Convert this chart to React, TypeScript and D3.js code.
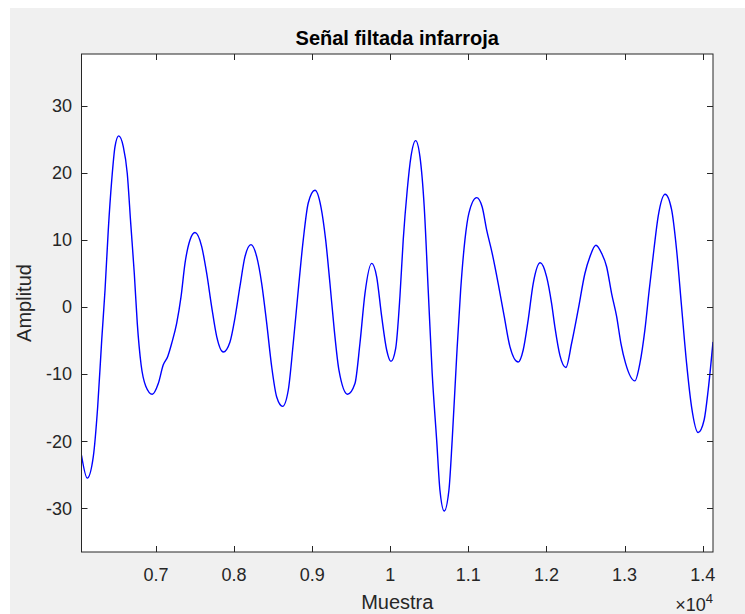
import * as d3 from "d3";
import React, { useEffect, useRef } from "react";

// sample index (x) and filtered IR amplitude (y)
const muestra = [
  6047, 6121, 6198, 6254, 6306, 6348, 6390, 6434, 6476, 6523, 6582, 6633, 6677, 6723, 6761, 6810,
  6870, 6953, 7030, 7094, 7150, 7202, 7266, 7321, 7372, 7436, 7500, 7586, 7650, 7714, 7778, 7862,
  7948, 8012, 8076, 8140, 8217, 8290, 8354, 8418, 8482, 8546, 8622, 8694, 8758, 8822, 8886, 8950,
  9036, 9113, 9173, 9228, 9283, 9343, 9454, 9548, 9612, 9676, 9762, 9826, 9890, 9954, 10009, 10069,
  10124, 10166, 10217, 10265, 10325, 10380, 10435, 10486, 10537, 10594, 10636, 10691, 10751, 10793,
  10850, 10901, 10956, 11007, 11106, 11177, 11234, 11305, 11382, 11459, 11532, 11638, 11702, 11766,
  11830, 11920, 12002, 12066, 12108, 12172, 12249, 12322, 12406, 12492, 12556, 12633, 12706, 12770,
  12834, 12898, 12953, 13013, 13132, 13196, 13260, 13315, 13375, 13430, 13520, 13602, 13666, 13730,
  13794, 13858, 13942, 14019, 14070, 14132,
];
const amplitud = [
  -22.1, -25.5, -22.3, -14.9, -4.9, 2.5, 11.5, 18.9, 23.9, 25.5, 23.9, 19.9, 12.5, 5.0, -2.4, -8.6,
  -11.8, -13.0, -11.4, -8.6, -7.4, -5.4, -2.4, 1.5, 6.5, 10.0, 11.1, 9.0, 5.0, 0.0, -4.4, -6.7,
  -5.2, -1.6, 3.1, 7.5, 9.3, 7.5, 3.5, -2.4, -8.9, -13.4, -14.8, -12.4, -5.4, 2.5, 10.0, 15.5,
  17.4, 14.9, 10.0, 3.5, -3.4, -9.4, -13.0, -11.4, -5.4, 2.0, 6.5, 4.5, -1.4, -6.4, -8.1, -6.2,
  1.6, 10.0, 17.4, 22.4, 24.8, 22.4, 14.9, 2.5, -9.9, -19.8, -27.3, -30.4, -27.3, -19.8,
  -7.4, 2.5, 10.0, 14.0, 16.3, 14.9, 11.5, 8.0, 3.5, -1.4, -5.9, -8.2, -6.4, -1.9,
  3.5, 6.6, 4.5, 0.5, -3.0, -7.2, -9.0, -5.4, -0.4, 5.0, 7.5, 9.2, 8.0, 6.0,
  2.0, -1.4, -5.4, -8.4, -11.0, -8.4, -3.4, 2.5, 8.5, 13.5, 16.8, 14.5, 8.5, 0.0,
  -8.4, -14.9, -18.7, -16.8, -12.4, -5.2,
];

const xTicks = [7000, 8000, 9000, 10000, 11000, 12000, 13000, 14000];
const xTickLabels = ["0.7", "0.8", "0.9", "1", "1.1", "1.2", "1.3", "1.4"];
const yTicks = [-30, -20, -10, 0, 10, 20, 30];

const W = 745;
const H = 614;
const box = { left: 81.5, right: 713, top: 54, bottom: 552 };
const ink = "#262626";
const font = "'Liberation Sans', Arial, Helvetica, sans-serif";

export default function App() {
  const svgRef = useRef<SVGSVGElement | null>(null);

  useEffect(() => {
    const svg = d3.select(svgRef.current);
    svg.selectAll("*").remove();

    const x = d3.scaleLinear().domain([6047, 14132]).range([box.left, box.right]);
    const y = d3.scaleLinear().domain([-36.5, 37.7]).range([box.bottom, box.top]);
    const tick = 6;

    // figure background
    svg.append("rect").attr("width", W).attr("height", H).attr("fill", "#ffffff");
    svg.append("rect").attr("x", 10).attr("y", 8).attr("width", W - 10).attr("height", H - 8)
      .attr("fill", "#f0f0f0");

    svg.append("rect")
      .attr("x", box.left).attr("y", box.top)
      .attr("width", box.right - box.left).attr("height", box.bottom - box.top)
      .attr("fill", "#ffffff");

    svg.append("clipPath").attr("id", "plot-clip")
      .append("rect")
      .attr("x", box.left).attr("y", box.top)
      .attr("width", box.right - box.left).attr("height", box.bottom - box.top);

    const line = d3.line<number>()
      .x((_, i) => x(muestra[i]))
      .y(d => y(d))
      .curve(d3.curveMonotoneX);

    svg.append("path")
      .datum(amplitud)
      .attr("clip-path", "url(#plot-clip)")
      .attr("fill", "none")
      .attr("stroke", "#0000ff")
      .attr("stroke-width", 1.4)
      .attr("d", line);

    // axes: ticks point inward on all four sides (box on)
    const g = svg.append("g").attr("stroke", ink).attr("stroke-width", 1).attr("fill", "none");
    xTicks.forEach(t => {
      const px = Math.round(x(t)) + 0.5;
      g.append("line").attr("x1", px).attr("x2", px).attr("y1", box.bottom).attr("y2", box.bottom - tick);
      g.append("line").attr("x1", px).attr("x2", px).attr("y1", box.top).attr("y2", box.top + tick);
    });
    yTicks.forEach(t => {
      const py = Math.round(y(t)) + 0.5;
      g.append("line").attr("x1", box.left).attr("x2", box.left + tick).attr("y1", py).attr("y2", py);
      g.append("line").attr("x1", box.right).attr("x2", box.right - tick).attr("y1", py).attr("y2", py);
    });
    g.append("rect")
      .attr("x", box.left).attr("y", box.top)
      .attr("width", box.right - box.left).attr("height", box.bottom - box.top);

    const txt = svg.append("g").attr("fill", ink).attr("font-family", font);

    txt.selectAll(".xt").data(xTicks).enter().append("text")
      .attr("class", "xt")
      .attr("x", d => x(d)).attr("y", 581)
      .attr("text-anchor", "middle").attr("font-size", 18)
      .text((_, i) => xTickLabels[i]);

    txt.selectAll(".yt").data(yTicks).enter().append("text")
      .attr("class", "yt")
      .attr("x", 72).attr("y", d => y(d)).attr("dy", "0.35em")
      .attr("text-anchor", "end").attr("font-size", 18)
      .text(d => String(d));

    // exponent marker
    const ex = txt.append("text").attr("x", 713).attr("y", 611).attr("text-anchor", "end").attr("font-size", 18);
    ex.append("tspan").text("\u00d710");
    ex.append("tspan").attr("font-size", 13).attr("dy", -8).text("4");

    txt.append("text")
      .attr("x", (box.left + box.right) / 2).attr("y", 609)
      .attr("text-anchor", "middle").attr("font-size", 20)
      .text("Muestra");

    txt.append("text")
      .attr("transform", `translate(31,${(box.top + box.bottom) / 2}) rotate(-90)`)
      .attr("text-anchor", "middle").attr("font-size", 20)
      .text("Amplitud");

    txt.append("text")
      .attr("x", (box.left + box.right) / 2).attr("y", 45)
      .attr("text-anchor", "middle").attr("font-size", 20).attr("font-weight", "bold")
      .attr("fill", "#000000")
      .text("Señal filtada infarroja");
  }, []);

  return (
    <svg
      ref={svgRef}
      width={W}
      height={H}
      style={{ position: "absolute", left: 0, top: 0, display: "block" }}
    />
  );
}
